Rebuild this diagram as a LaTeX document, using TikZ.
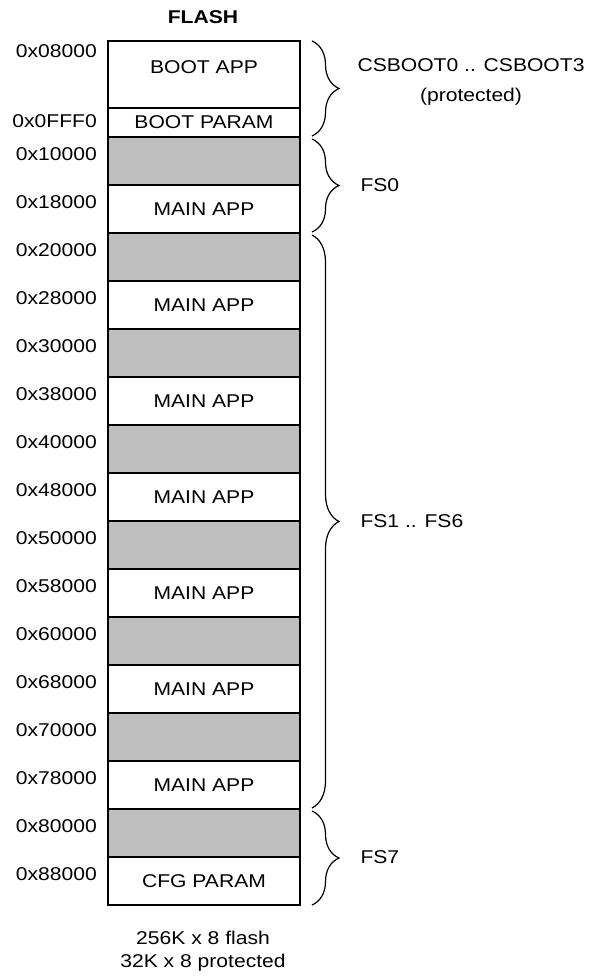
\documentclass[tikz,border=0pt]{standalone}
\usepackage{fontspec}
\setmainfont{Liberation Sans}[FakeStretch=1.14]
\usetikzlibrary{positioning,decorations.pathreplacing}

\begin{document}
\begin{tikzpicture}[x=1pt,y=-1pt,node distance=0pt,
  txt/.style={font=\fontsize{18.5}{22}\selectfont},
  cell/.style={txt,draw,line width=1.6pt,minimum width=192pt,inner sep=0pt,outer sep=0pt},
  spare/.style={cell,fill=black!25,minimum height=48pt},
  app/.style={cell,fill=white,minimum height=48pt},
  addr/.style={txt,anchor=east,inner sep=0pt},
  grp/.style={decorate,decoration={brace,amplitude=27pt},line width=1.2pt}]
  \useasboundingbox (0,0) rectangle (591,976);
  % memory map
  \node[cell,minimum height=67pt] (boot) at (204,74.5) {};
  \node[txt] (bootlbl) at ([yshift=-26pt]boot.north) {BOOT APP};
  \node[cell,minimum height=29pt,below=of boot] (bparam) {BOOT PARAM};
  \node[spare,below=of bparam] (g0) {};
  \node[app,below=of g0] (m0) {MAIN APP};
  \foreach \i [count=\j from 0] in {1,...,6} {
    \node[spare,below=of m\j] (g\i) {};
    \node[app,below=of g\i] (m\i) {MAIN APP};
  }
  \node[spare,below=of m6] (g7) {};
  \node[app,below=of g7] (cfg) {CFG PARAM};
  % addresses
  \node[addr] (a-boot) at ([xshift=-11pt,yshift=-10pt]boot.north west) {0x08000};
  \node[addr] (a-bparam) at ([xshift=-11pt,yshift=-13pt]bparam.north west) {0x0FFF0};
  \foreach \n/\a in {g0/0x10000,m0/0x18000,g1/0x20000,m1/0x28000,g2/0x30000,
      m2/0x38000,g3/0x40000,m3/0x48000,g4/0x50000,m4/0x58000,g5/0x60000,
      m5/0x68000,g6/0x70000,m6/0x78000,g7/0x80000,cfg/0x88000}
    \node[addr] (a-\n) at ([xshift=-11pt,yshift=-17pt]\n.north west) {\a};
  % titles
  \node[txt,font=\fontsize{18.5}{22}\selectfont\bfseries] (title) at (203,17) {FLASH};
  \node[txt,align=center,font=\fontsize{18.5}{23.5}\selectfont] (size) at (203,951)
    {256K x 8 flash\\32K x 8 protected};
  % sectors
  \draw[grp] ([xshift=12pt]boot.north east) -- ([xshift=12pt,yshift=1pt]bparam.south east);
  \draw[grp] ([xshift=12pt,yshift=-2pt]g0.north east) -- ([xshift=12pt,yshift=1pt]m0.south east);
  \draw[grp] ([xshift=12pt,yshift=-2pt]g1.north east) -- ([xshift=12pt,yshift=1pt]m6.south east);
  \draw[grp] ([xshift=12pt,yshift=-2pt]g7.north east) -- ([xshift=12pt]cfg.south east);
  \node[txt,align=center,font=\fontsize{18.5}{30}\selectfont] (csboot) at (471,82)
    {CSBOOT0 .. CSBOOT3\\(protected)};
  \node[txt,anchor=west] (fs0) at ([xshift=57pt]g0.south east) {FS0};
  \node[txt,anchor=west] (fs16) at ([xshift=57pt]m3.south east) {FS1 .. FS6};
  \node[txt,anchor=west] (fs7) at ([xshift=57pt]g7.south east) {FS7};
\end{tikzpicture}
\end{document}
